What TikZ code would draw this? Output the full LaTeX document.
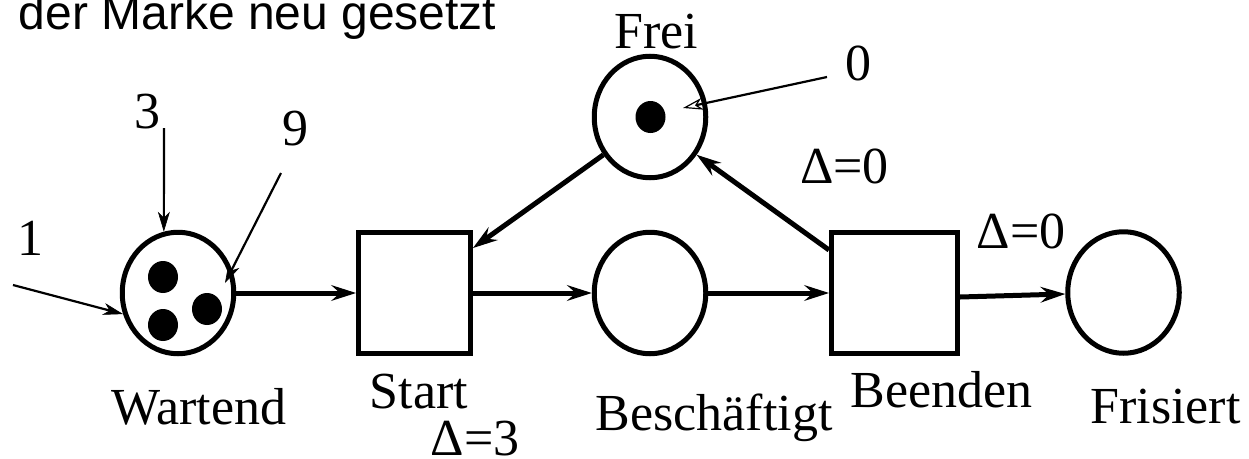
\documentclass[tikz,border=0pt]{standalone}
\usepackage{fontspec}
\setmainfont{Liberation Serif}
\newfontfamily\titlefont{Liberation Sans}
\usetikzlibrary{shapes.geometric,arrows.meta}
\begin{document}
\begin{tikzpicture}[x=1pt,y=-1pt,
  place/.style={ellipse,draw,line width=5pt,minimum width=111.5pt,minimum height=121.5pt,inner sep=0pt},
  trans/.style={rectangle,draw,line width=5pt,minimum height=121pt,inner sep=0pt},
  token/.style={ellipse,fill=black,minimum width=30pt,minimum height=32pt,inner sep=0pt},
  lbl/.style={inner sep=0pt,anchor=base,font=\fontsize{52}{56}\selectfont},
  arc/.style={line width=5pt,-{Stealth[length=25pt,width=16pt,inset=9pt,line width=1.2pt]}},
  thinarc/.style={line width=2.2pt,-{Stealth[length=20pt,width=12pt,inset=6pt,line width=0.6pt]}},
  openarc/.style={line width=2.2pt,-{Stealth[open,length=20pt,width=12pt,inset=6pt,line width=1.2pt]}},
]
\useasboundingbox (0,0) rectangle (1249,458);

% title (cut off at top)
\node[inner sep=0pt,anchor=base west,font=\titlefont\fontsize{48}{50}\selectfont] (title) at (18.5,29) {der Marke neu gesetzt};

% places
\node[place] (W) at (178,293) {};
\node[place] (F) at (650,117) {};
\node[place] (B) at (650,293) {};
\node[place] (R) at (1123.5,292.5) {};

% transitions
\node[trans,minimum width=112pt] (S) at (414.5,293) {};
\node[trans,minimum width=126pt] (E) at (894.5,293) {};

% tokens
\node[token] (w1) at (163,277) {};
\node[token] (w2) at (163,325) {};
\node[token] (w3) at (207,309) {};
\node[token] (f1) at (650.5,117) {};

% labels
\node[lbl] (lFrei) at (656.5,48) {Frei};
\node[lbl] (lW) at (199,424) {Wartend};
\node[lbl] (lS) at (419,408) {Start};
\node[lbl] (lSd) at (475,455) {Δ=3};
\node[lbl] (lB) at (714,430) {Beschäftigt};
\node[lbl] (lE) at (941.5,407) {Beenden};
\node[lbl] (lR) at (1165.5,423) {Frisiert};
\node[lbl] (lEd1) at (844.5,183) {Δ=0};
\node[lbl] (lEd2) at (1021,248) {Δ=0};
\node[lbl] (l0) at (858,80) {0};
\node[lbl] (l1) at (30,255) {1};
\node[lbl] (l3) at (147.5,128) {3};
\node[lbl] (l9) at (295.5,145) {9};

% free ends of the annotation arrows
\coordinate (a1) at (13,285);
\coordinate (a3) at (164,128);
\coordinate (a9) at (281,173);
\coordinate (t9) at (225,283);
\coordinate (a0) at (827,77);
\coordinate (t0) at (683,108);

% annotation arrows
\draw[thinarc] (a1) -- (W.201);
\draw[thinarc] (a3) -- (W.103);
\draw[thinarc] (a9) -- (t9);
\draw[openarc] (a0) -- (t0);

% net arcs
\draw[arc] (W) -- (S);
\draw[arc] (S) -- (B);
\draw[arc] (B) -- (E);
\draw[arc] ([yshift=-4pt]E.east) -- ([yshift=-1.5pt]R.west);
\draw[arc] (F.219) -- ([yshift=-18pt]S.north east);
\draw[arc] ([yshift=-20pt]E.north west) -- (F.321);
\end{tikzpicture}
\end{document}
